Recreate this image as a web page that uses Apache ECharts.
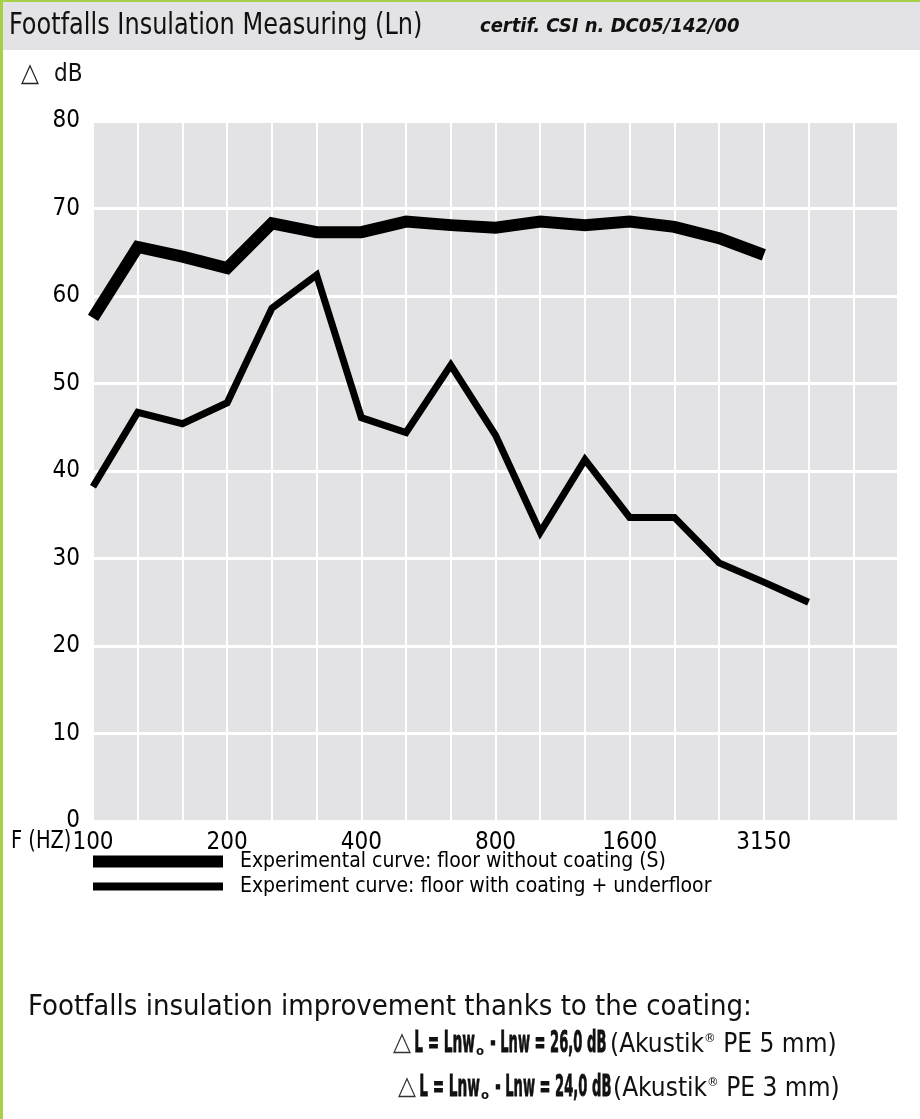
<!DOCTYPE html>
<html><head><meta charset="utf-8">
<script src="https://cdn.jsdelivr.net/npm/echarts@6/dist/echarts.min.js"></script>
<style>html,body{margin:0;padding:0;background:#fff}#c{width:920px;height:1119px}</style>
</head><body><div id="c"></div>
<script>
const freqs = ['100','125','160','200','250','315','400','500','630','800','1000','1250','1600','2000','2500','3150','4000','5000','6300'];
const shownLabels = ['100','200','400','800','1600','3150'];
const withoutCoating = [57.5, 65.6, 64.5, 63.2, 68.3, 67.3, 67.3, 68.5, 68.1, 67.8, 68.5, 68.1, 68.5, 67.9, 66.6, 64.7];
const withCoating = [38.2, 46.7, 45.4, 47.8, 58.6, 62.4, 46.1, 44.4, 52.1, 44.1, 33.0, 41.3, 34.7, 34.7, 29.5, 27.3, 25.0];
const yTicks = [0, 10, 20, 30, 40, 50, 60, 70, 80];
const nameS = 'Experimental curve: floor without coating (S)';
const nameC = 'Experiment curve: floor with coating + underfloor';

const FN = "'Liberation Sans Narrow','DejaVu Sans Condensed','Roboto Condensed','Liberation Sans',sans-serif";
const boldStyle = (t) => ({text: t, font: 'bold 31px ' + FN, fill: '#111', stroke: '#111', lineWidth: 0.8});
const richReg = {r: {font: '26px ' + FN, fill: '#111'}, s: {font: '13px ' + FN, fill: '#111', verticalAlign: 'top'}};
const chart = echarts.init(document.getElementById('c'));
chart.setOption({
  backgroundColor: '#fff',
  animation: false,
  grid: {left: 93, right: 22, top: 121, height: 700, show: true, backgroundColor: '#e3e3e5', borderWidth: 0},
  xAxis: {
    type: 'category', data: freqs, boundaryGap: false,
    axisLine: {show: false}, axisTick: {show: false},
    axisLabel: {
      interval: 0, margin: 10, color: '#000', fontFamily: FN, fontSize: 24,
      formatter: v => shownLabels.includes(v) ? v : ''
    },
    splitLine: {show: true, interval: 0, lineStyle: {color: '#fff', width: 2}}
  },
  yAxis: {
    type: 'value', min: yTicks[0], max: yTicks[yTicks.length-1], interval: 10,
    axisLine: {show: false}, axisTick: {show: false},
    axisLabel: {margin: 13, color: '#000', fontFamily: FN, fontSize: 24},
    splitLine: {show: true, lineStyle: {color: '#fff', width: 3}}
  },
  legend: [
    {data: [nameS], left: 88, top: 846, orient: 'vertical', icon: 'rect', itemWidth: 130, itemHeight: 12,
     textStyle: {fontFamily: FN, fontSize: 21, color: '#000', padding: [0,0,0,12]}, selectedMode: false},
    {data: [nameC], left: 88, top: 871, orient: 'vertical', icon: 'rect', itemWidth: 130, itemHeight: 8,
     textStyle: {fontFamily: FN, fontSize: 21, color: '#000', padding: [0,0,0,12]}, selectedMode: false}
  ],
  series: [
    {name: nameS, type: 'line', data: withoutCoating, showSymbol: false, symbol: 'none', color: '#000',
     lineStyle: {color: '#000', width: 12, cap: 'butt', join: 'miter'}},
    {name: nameC, type: 'line', data: withCoating, showSymbol: false, symbol: 'none', color: '#000',
     lineStyle: {color: '#000', width: 7, cap: 'butt', join: 'miter'}}
  ],
  graphic: [
    {type: 'rect', left: 0, top: 0, shape: {width: 920, height: 50}, style: {fill: '#e3e3e5'}, silent: true},
    {type: 'rect', left: 0, top: 0, shape: {width: 920, height: 2}, style: {fill: '#a6d04a'}, silent: true},
    {type: 'rect', left: 0, top: 0, shape: {width: 3, height: 1119}, style: {fill: '#a6d04a'}, silent: true},
    {type: 'text', left: 9, top: 11, scaleX: 0.89, style: {text: 'Footfalls Insulation Measuring (Ln)', font: '30px ' + FN, fill: '#111'}},
    {type: 'text', left: 480, top: 17, style: {text: 'certif. CSI n. DC05/142/00', font: 'italic bold 20px ' + FN, fill: '#111'}},
    {type: 'text', left: 21, top: 61, style: {text: '△', font: '26px ' + FN, fill: '#222'}},
    {type: 'text', left: 54, top: 63, style: {text: 'dB', font: '24px ' + FN, fill: '#111'}},
    {type: 'text', left: 11, top: 830, scaleX: 0.9, style: {text: 'F (HZ)', font: '24px ' + FN, fill: '#000'}},
    {type: 'text', left: 28, top: 993, style: {text: 'Footfalls insulation improvement thanks to the coating:', font: '29px ' + FN, fill: '#111'}},

    {type: 'text', left: 393, top: 1030, style: {text: '△', font: '26px ' + FN, fill: '#333'}},
    {type: 'text', left: 414, top: 1028, scaleX: 0.49, style: boldStyle('L = Lnw')},
    {type: 'text', left: 476, top: 1045, style: {text: 'o', font: 'bold 13px ' + FN, fill: '#111'}},
    {type: 'text', left: 490, top: 1028, scaleX: 0.47, style: boldStyle('- Lnw = 26,0 dB')},
    {type: 'text', left: 610, top: 1032, style: {text: '{r|(Akustik}{s|®}{r| PE 5 mm)}', rich: richReg}},

    {type: 'text', left: 398, top: 1074, style: {text: '△', font: '26px ' + FN, fill: '#333'}},
    {type: 'text', left: 419, top: 1072, scaleX: 0.49, style: boldStyle('L = Lnw')},
    {type: 'text', left: 481, top: 1089, style: {text: 'o', font: 'bold 13px ' + FN, fill: '#111'}},
    {type: 'text', left: 495, top: 1072, scaleX: 0.47, style: boldStyle('- Lnw = 24,0 dB')},
    {type: 'text', left: 613, top: 1076, style: {text: '{r|(Akustik}{s|®}{r| PE 3 mm)}', rich: richReg}}
  ]
});
</script></body></html>
